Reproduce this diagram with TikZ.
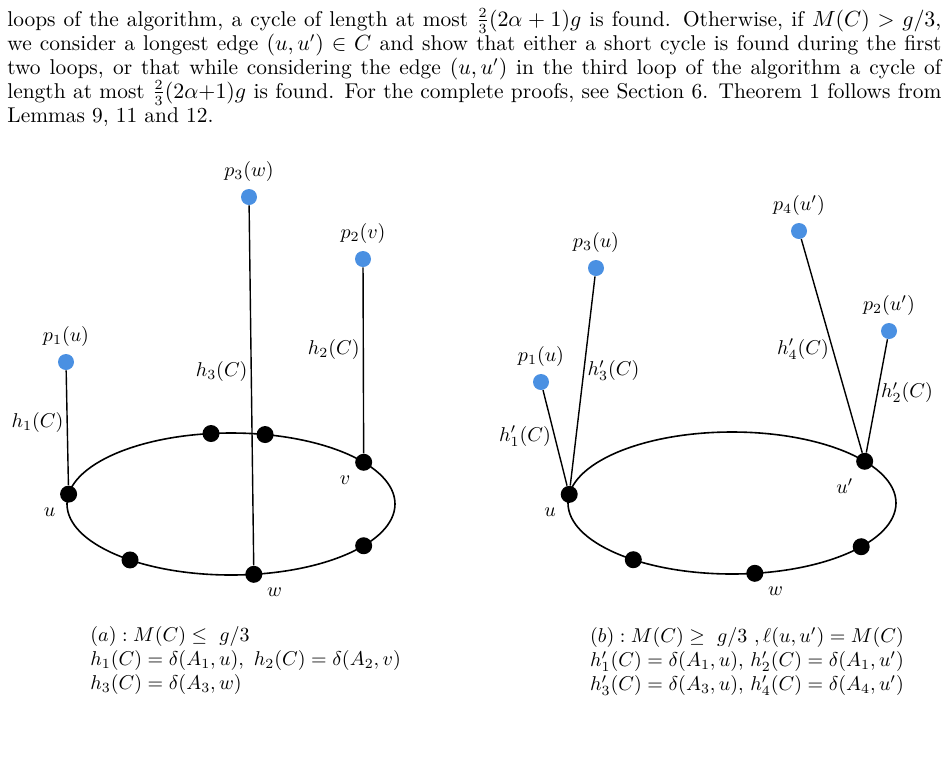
\documentclass[tikz,border=0pt]{standalone}
\usepackage{tikz}
\usetikzlibrary{positioning}
\usepackage{amsmath}
\usepackage{amssymb}
\definecolor{pointcolor}{RGB}{74,144,226}
\tikzstyle{vertex} = [circle, fill=black, inner sep=0pt, minimum size=8.5pt]
\tikzstyle{apex} = [circle, fill=pointcolor, inner sep=0pt, minimum size=8pt]
\tikzstyle{leg} = [line width=0.7pt]
\tikzstyle{ring} = [line width=0.8pt]
\tikzstyle{hlabel} = [inner sep=1.5pt]
\tikzstyle{textline} = [anchor=base west, inner sep=0pt, font=\fontsize{10.7}{12}\selectfont]
\tikzstyle{caption} = [anchor=north west, align=left, inner sep=0pt]

\begin{document}
\begin{tikzpicture}[x=0.5pt, y=-0.5pt]
\useasboundingbox (0,0) rectangle (949,757);

% running text
\node (line1) [textline] at (7,26) {\makebox[467pt][s]{loops of the algorithm, a cycle of length at most $\frac{2}{3}(2\alpha+1)g$ is found. Otherwise, if $M(C)>g/3$,}};
\node (line2) [textline] at (7,50) {\makebox[467pt][s]{we consider a longest edge $(u,u')\in C$ and show that either a short cycle is found during the first}};
\node (line3) [textline] at (7,74) {\makebox[467pt][s]{two loops, or that while considering the edge $(u,u')$ in the third loop of the algorithm a cycle of}};
\node (line4) [textline] at (7,98) {\makebox[467pt][s]{length at most $\frac{2}{3}(2\alpha{+}1)g$ is found. For the complete proofs, see Section 6. Theorem 1 follows from}};
\node (line5) [textline] at (7,122) {Lemmas 9, 11 and 12.};

% (a) short cycle
\coordinate (cl) at (231,504);
\draw [ring] (cl) ellipse [x radius=164, y radius=71];

\node (u) [vertex, label={below left:$u$}] at ([shift={(-172:164 and 71)}]cl) {};
\node (ta) [vertex] at ([shift={(-97:164 and 71)}]cl) {};
\node (tb) [vertex] at ([shift={(-78:164 and 71)}]cl) {};
\node (v) [vertex, label={below left:$v$}] at ([shift={(-36:164 and 71)}]cl) {};
\node (ra) [vertex] at ([shift={(36:164 and 71)}]cl) {};
\node (w) [vertex, label={below right:$w$}] at ([shift={(82:164 and 71)}]cl) {};
\node (la) [vertex] at ([shift={(128:164 and 71)}]cl) {};

\node (pu) [apex, label={above:$p_1(u)$}] at (66,362) {};
\node (pw) [apex, label={above:$p_3(w)$}] at (249,197) {};
\node (pv) [apex, label={above:$p_2(v)$}] at (363,259) {};

\draw [leg] (pu) -- node[hlabel, left, pos=0.45] {$h_1(C)$} (u);
\draw [leg] (pw) -- node[hlabel, left, pos=0.46] {$h_3(C)$} (w);
\draw [leg] (pv) -- node[hlabel, left, pos=0.44] {$h_2(C)$} (v);

% (b) long edge
\coordinate (cr) at (732,503);
\draw [ring] (cr) ellipse [x radius=164, y radius=71];

\node (u2) [vertex, label={below left:$u$}] at ([shift={(-173:164 and 71)}]cr) {};
\node (uu) [vertex, label={[xshift=1pt, yshift=-2pt]below left:$u'$}] at ([shift={(-36:164 and 71)}]cr) {};
\node (rb) [vertex] at ([shift={(38:164 and 71)}]cr) {};
\node (w2) [vertex, label={below right:$w$}] at ([shift={(82:164 and 71)}]cr) {};
\node (lb) [vertex] at ([shift={(127:164 and 71)}]cr) {};

\node (qa) [apex, label={above:$p_1(u)$}] at (541,382) {};
\node (qc) [apex, label={above:$p_3(u)$}] at (596,268) {};
\node (qd) [apex, label={above:$p_4(u')$}] at (799,231) {};
\node (qb) [apex, label={above:$p_2(u')$}] at (889,331) {};

\draw [leg] (qa) -- node[hlabel, left, pos=0.48] {$h'_1(C)$} (u2);
\draw [leg] (qc) -- node[hlabel, right, pos=0.45] {$h'_3(C)$} (u2);
\draw [leg] (qd) -- node[hlabel, left, pos=0.515] {$h'_4(C)$} (uu);
\draw [leg] (qb) -- node[hlabel, right, pos=0.47] {$h'_2(C)$} (uu);

% captions
\node (capa) [caption] at (90,626) {$(a): M(C)\leq\ g/3$\\ $h_1(C)=\delta(A_1,u),\ h_2(C)=\delta(A_2,v)$\\ $h_3(C)=\delta(A_3,w)$};
\node (capb) [caption, anchor=north, align=center] at (747,627) {$(b): M(C)\geq\ g/3\ ,\ell(u,u')=M(C)$\\ $h'_1(C)=\delta(A_1,u)$, $h'_2(C)=\delta(A_1,u')$\\ $h'_3(C)=\delta(A_3,u)$, $h'_4(C)=\delta(A_4,u')$};

\end{tikzpicture}
\end{document}
